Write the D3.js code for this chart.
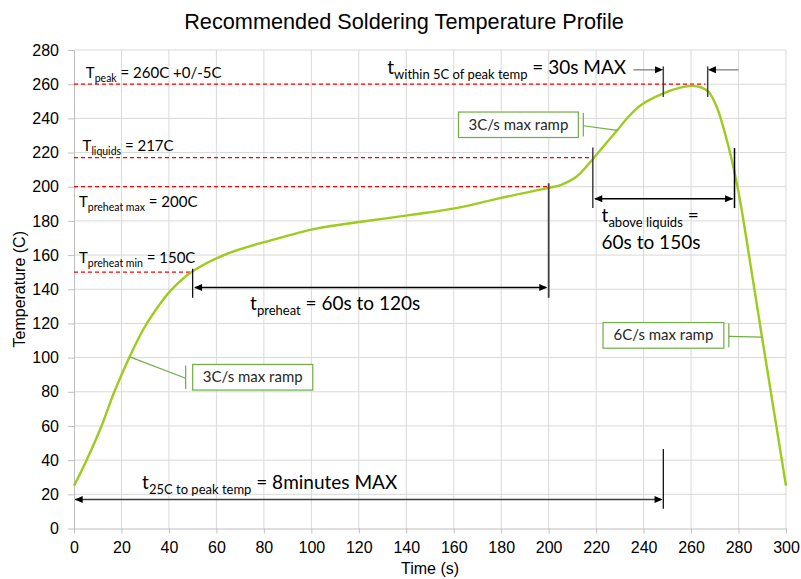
<!DOCTYPE html>
<html><head><meta charset="utf-8">
<script src="https://cdn.jsdelivr.net/npm/d3@7"></script>
<style>
body{margin:0;background:#fff;}
svg{display:block;}
</style></head>
<body><svg id="chart" width="801" height="579"></svg>
<script>
// ---- data ----
const timeValues = [0, 5.3, 11.6, 17, 23.3, 29, 35, 41, 50, 65, 84, 102, 121, 142, 161, 180, 200, 205, 211.8, 218.5, 223.6, 228.9, 233.5, 239.1, 248.3, 255.4, 260.3, 264.5, 267.3, 270.8, 274.3, 277.8, 280.6, 286, 290, 300];
const tempValues = [25, 40, 60, 80, 100, 116, 129, 139.6, 150.5, 161, 169, 175.5, 179.5, 183.5, 187.5, 193.5, 199.3, 201, 206, 216, 224.4, 233, 240.8, 248, 254.6, 258, 259, 258, 255.6, 246.8, 231.2, 211.7, 192.2, 146, 111, 25];
const xTicks = [0,20,40,60,80,100,120,140,160,180,200,220,240,260,280,300];
const yTicks = [0,20,40,60,80,100,120,140,160,180,200,220,240,260,280];
// threshold lines
const thresholdTemps = [260, 217, 200, 150];
const thresholdEnds = [266, 218.5, 200, 50];
const thresholdSubs = ["peak", "liquids", "preheat max", "preheat min"];
const thresholdRest = [" = 260C +0/-5C", " = 217C", " = 200C", " = 150C"];
const thresholdLabelPos = [[5, 263.8], [3.6, 220.9], [2.1, 188.3], [2.1, 155.5]];
const rampLabels = ["3C/s max ramp", "3C/s max ramp", "6C/s max ramp"];
// box [t0, t1, Ttop, Tbottom], curve point for leader [t, T]
const rampBoxes = [[50, 100.6, 96, 81], [162, 212.5, 243.7, 228.8], [222.9, 273.8, 120.5, 105.5]];
const rampTargets = [[23.5, 100.4], [228.9, 233], [289.8, 112]];

// ---- layout ----
const svg = d3.select("#chart");
const x = d3.scaleLinear().domain([0, 300]).range([74, 786]);
const y = d3.scaleLinear().domain([0, 280]).range([528.5, 50]);
const ANN = "Lato, 'Open Sans', sans-serif";
const AX = "'Liberation Sans', Arial, sans-serif";

// grid
const grid = svg.append("g");
grid.selectAll("line.v").data(xTicks.slice(1)).enter().append("line")
  .attr("x1", d => x(d)).attr("x2", d => x(d)).attr("y1", y(0)).attr("y2", y(280))
  .attr("stroke", "#d9d9d9").attr("stroke-width", 1);
grid.selectAll("line.h").data(yTicks.slice(1)).enter().append("line")
  .attr("x1", x(0)).attr("x2", x(300)).attr("y1", d => y(d)).attr("y2", d => y(d))
  .attr("stroke", "#d9d9d9").attr("stroke-width", 1);

// axes
const yAxis = svg.append("g").attr("transform", `translate(${x(0)},0)`)
  .call(d3.axisLeft(y).tickValues(yTicks).tickSize(6).tickPadding(9).tickSizeOuter(0));
const xAxis = svg.append("g").attr("transform", `translate(0,${y(0)})`)
  .call(d3.axisBottom(x).tickValues(xTicks).tickSize(5).tickPadding(8).tickSizeOuter(0));
[xAxis, yAxis].forEach(a => {
  a.select(".domain").attr("stroke", "#bfbfbf");
  a.selectAll(".tick line").attr("stroke", "#bfbfbf");
  a.selectAll(".tick text").attr("font-family", AX).attr("font-size", 16).attr("fill", "#000");
});

// title & axis titles
svg.append("text").attr("x", 404).attr("y", 29).attr("text-anchor", "middle")
  .attr("font-family", AX).attr("font-size", 21.7).attr("fill", "#000")
  .text("Recommended Soldering Temperature Profile");
svg.append("text").attr("x", (x(0) + x(300)) / 2).attr("y", 574).attr("text-anchor", "middle")
  .attr("font-family", AX).attr("font-size", 16).attr("fill", "#000").text("Time (s)");
svg.append("text").attr("transform", `translate(25,${(y(0) + y(280)) / 2}) rotate(-90)`)
  .attr("text-anchor", "middle").attr("font-family", AX).attr("font-size", 16).attr("fill", "#000")
  .text("Temperature (C)");

// threshold dashed lines
svg.append("g").selectAll("line").data(thresholdTemps).enter().append("line")
  .attr("x1", x(0)).attr("x2", (d, i) => x(thresholdEnds[i]))
  .attr("y1", d => y(d)).attr("y2", d => y(d))
  .attr("stroke", "#ff0000").attr("stroke-width", 1.3).attr("stroke-dasharray", "4,3");

// text helper with subscripts
function subLabel(t, T, main, sub, rest, size, subSize) {
  const tx = svg.append("text").attr("x", x(t)).attr("y", y(T))
    .attr("font-family", ANN).attr("font-size", size).attr("fill", "#000");
  tx.append("tspan").text(main);
  tx.append("tspan").attr("font-size", subSize).attr("dy", size * 0.26).text(sub);
  tx.append("tspan").attr("dy", -size * 0.26).text(rest);
  return tx;
}
thresholdTemps.forEach((d, i) => {
  subLabel(thresholdLabelPos[i][0], thresholdLabelPos[i][1], "T", thresholdSubs[i], thresholdRest[i], 15, 10.5);
});

// profile curve
const pts = timeValues.map((t, i) => [t, tempValues[i]]);
svg.append("path").datum(pts)
  .attr("d", d3.line().x(d => x(d[0])).y(d => y(d[1])).curve(d3.curveCatmullRom.alpha(0.5)))
  .attr("fill", "none").attr("stroke", "#9dcb1e").attr("stroke-width", 2.4);

// dimension helpers
function vline(t, T1, T2, color, w) {
  svg.append("line").attr("x1", x(t)).attr("x2", x(t)).attr("y1", y(T1)).attr("y2", y(T2))
    .attr("stroke", color || "#404040").attr("stroke-width", w || 1.5);
}
function arrowHead(t, T, dir) { // dir: +1 points right, -1 points left
  const px = x(t), py = y(T), L = 8, H = 3.5;
  svg.append("path").attr("d", `M${px},${py} L${px - dir * L},${py - H} L${px - dir * L},${py + H} Z`)
    .attr("fill", "#000");
}
function hline(t1, t2, T, color, w) {
  svg.append("line").attr("x1", x(t1)).attr("x2", x(t2)).attr("y1", y(T)).attr("y2", y(T))
    .attr("stroke", color || "#000").attr("stroke-width", w || 1.5);
}

// preheat
vline(50, 152, 135, "#000", 1.2);
vline(200, 202, 135, "#404040", 1.8);
hline(51, 199, 141, "#000", 1.5);
arrowHead(50.6, 141, -1); arrowHead(199.4, 141, 1);
subLabel(74.2, 127.7, "t", "preheat", " = 60s to 120s", 19, 13);

// above liquidus
vline(218.6, 223, 187.6, "#404040", 1.5);
vline(278.3, 222.6, 187.5, "#000", 1.5);
hline(219.5, 277.5, 193, "#000", 1.5);
arrowHead(219.2, 193, -1); arrowHead(277.7, 193, 1);
subLabel(222.3, 179.2, "t", "above liquids", " =", 19, 13);
svg.append("text").attr("x", x(222.3)).attr("y", y(163.3)).attr("font-family", ANN)
  .attr("font-size", 19).attr("fill", "#000").text("60s to 150s");

// within 5C of peak
vline(248.3, 270.4, 252.5, "#404040", 1.5);
vline(267, 270.4, 252.5, "#404040", 1.5);
hline(235.7, 246, 268.4, "#7f7f7f", 1.3);
arrowHead(248.2, 268.4, 1);
hline(269, 280, 268.4, "#7f7f7f", 1.3);
arrowHead(267.1, 268.4, -1);
subLabel(132, 265.8, "t", "within 5C of peak temp", " = 30s MAX", 19, 13);

// 25C to peak
vline(248.3, 46.5, 11.6, "#000", 1.2);
hline(0.5, 247.5, 17, "#404040", 1.5);
arrowHead(0.3, 17, -1); arrowHead(248, 17, 1);
subLabel(28.7, 23, "t", "25C to peak temp", " = 8minutes MAX", 19, 13);

// ramp callouts
const callG = svg.append("g");
rampBoxes.forEach((b, i) => {
  const x0 = x(b[0]), x1 = x(b[1]), y0 = y(b[2]), y1 = y(b[3]);
  callG.append("rect").attr("x", x0).attr("y", y0).attr("width", x1 - x0).attr("height", y1 - y0)
    .attr("fill", "#fff").attr("stroke", "#70ad47").attr("stroke-width", 1.2);
  callG.append("text").attr("x", (x0 + x1) / 2).attr("y", (y0 + y1) / 2 + 5)
    .attr("text-anchor", "middle").attr("font-family", ANN).attr("font-size", 15)
    .attr("fill", "#262626").text(rampLabels[i]);
  const target = rampTargets[i];
  const bx = target[0] < b[0] ? x0 - 7 : x1 + 5;
  callG.append("line").attr("x1", bx).attr("x2", bx).attr("y1", y0 + 1).attr("y2", y1 - 1)
    .attr("stroke", "#70ad47").attr("stroke-width", 1.2);
  callG.append("line").attr("x1", bx).attr("y1", (y0 + y1) / 2 + 1)
    .attr("x2", x(target[0])).attr("y2", y(target[1]))
    .attr("stroke", "#70ad47").attr("stroke-width", 1.2);
});
</script></body></html>
